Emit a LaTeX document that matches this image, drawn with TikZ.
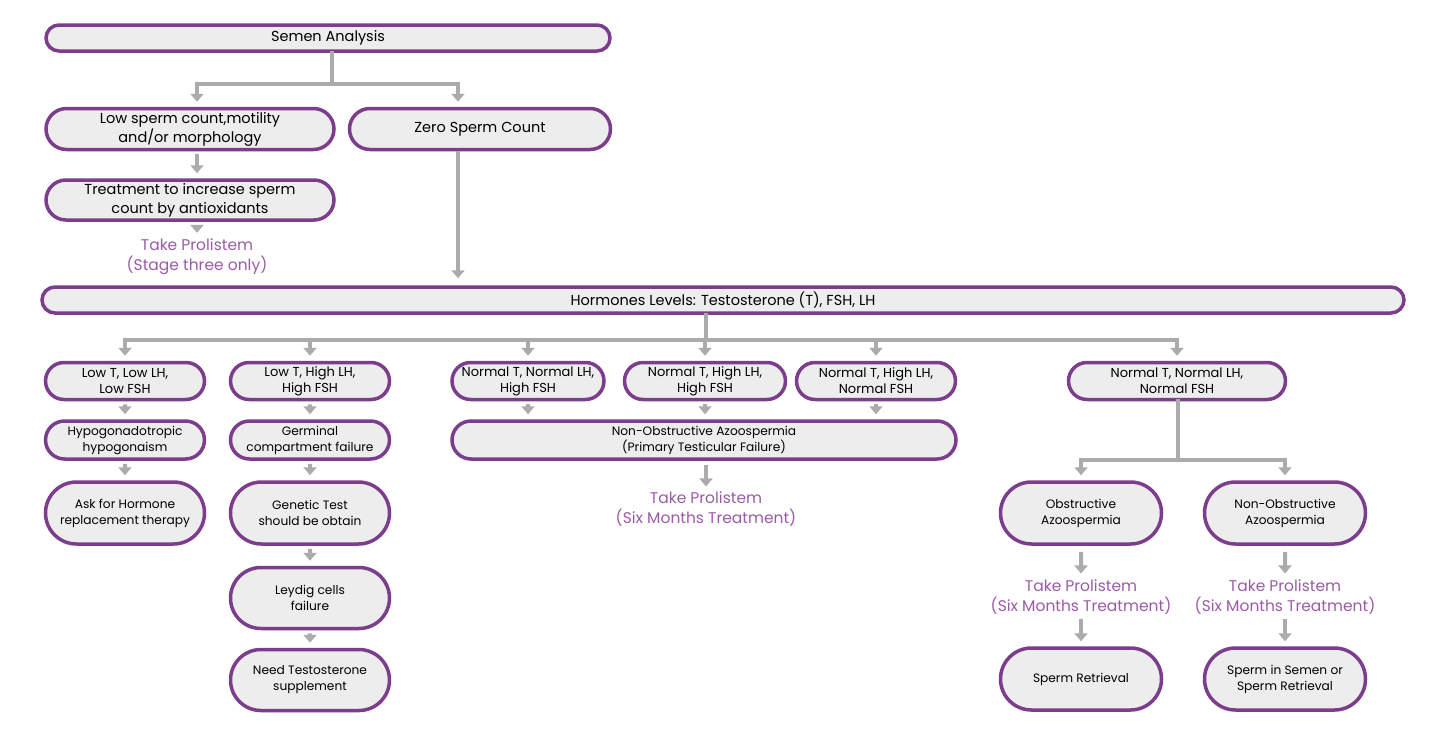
\documentclass[tikz,border=0pt]{standalone}
\usepackage{fontspec}
\setmainfont{Poppins}
\usetikzlibrary{arrows.meta,positioning,shapes.misc}
\definecolor{Plum}{HTML}{7B3D8C}
\definecolor{Lilac}{HTML}{9A5BA6}
\definecolor{Ash}{HTML}{ABABAB}
\definecolor{Mist}{HTML}{EDEDED}
\tikzset{
  pill/.style={rounded rectangle,draw=Plum,fill=Mist,line width=3.5pt,align=center,inner xsep=-16pt,inner ysep=0pt,minimum height=#1,font=\fontsize{14.5}{19}\selectfont},
  small/.style={pill=#1,font=\fontsize{12.2}{16}\selectfont},
  tag/.style={pill=#1,font=\fontsize{13}{16}\selectfont},
  note/.style={text=Lilac,align=center,inner sep=1pt,font=\fontsize{15.5}{20}\selectfont},
  link/.style={draw=Ash,line width=4pt,line cap=rect},
  tip/.style={draw=Ash,line width=4pt,->,shorten <=3pt,shorten >=5pt}
}
\begin{document}
\begin{tikzpicture}[x=1pt,y=-1pt,>={Triangle[width=13pt,length=8pt]}]
  \useasboundingbox (0,0) rectangle (1438,737);
  % top part
  \node[pill=26pt,minimum width=532pt] (sa) at (328,38) {Semen Analysis};
  \node[pill=41pt,minimum width=256pt] (low) at (190,129) {Low sperm count,motility\\and/or morphology};
  \node[pill=41pt,minimum width=229pt] (zero) at (480,129) {Zero Sperm Count};
  \node[pill=40pt,minimum width=256pt] (treat) at (190,200) {Treatment to increase sperm\\count by antioxidants};
  \node[note] (stage) at (197,257) {Take Prolistem\\(Stage three only)};
  \node[pill=26pt,minimum width=1330pt] (hl) at (723,300) {Hormones Levels: Testosterone (T), FSH, LH};
  \coordinate (bus1) at (332,84);
  \draw[link] (sa.south -| bus1) -- (bus1);
  \draw[link] ([xshift=7pt]low.north |- bus1) -- ([xshift=-22pt]zero.north |- bus1);
  \draw[tip,shorten <=0pt] ([xshift=7pt]low.north |- bus1) -- ([xshift=7pt]low.north);
  \draw[tip,shorten <=0pt] ([xshift=-22pt]zero.north |- bus1) -- ([xshift=-22pt]zero.north);
  \draw[tip] ([xshift=7pt]low.south) -- ([xshift=7pt]treat.north);
  \draw[tip] ([xshift=7pt]treat.south) -- (stage.north);
  \draw[tip,shorten <=0pt,shorten >=7pt] ([xshift=-22pt]zero.south) -- ([xshift=-22pt]zero.south |- hl.north);
  % hormone results
  \foreach \name/\x/\w/\txt in {ll/125/127/{Low T, Low LH,\\Low FSH},lh/310/127/{Low T, High LH,\\High FSH},
      nnh/528/120/{Normal T, Normal LH,\\High FSH},nhh/705/129/{Normal T, High LH,\\High FSH},
      nhn/876/127/{Normal T, High LH,\\Normal FSH},nnn/1177/185/{Normal T, Normal LH,\\Normal FSH}}
    \node[tag=37pt,minimum width=\w pt] (\name) at (\x,381) {\txt};
  \coordinate (bus2) at (706,340);
  \draw[link] ([xshift=-17pt]hl.south) -- (bus2);
  \draw[link] (ll.north |- bus2) -- (nnn.north |- bus2);
  \foreach \name in {ll,lh,nnh,nhh,nhn,nnn}
    \draw[tip,shorten <=0pt] (\name.north |- bus2) -- (\name.north);
  \node[small=38pt,minimum width=127pt] (hypo) at (125,440) {Hypogonadotropic\\hypogonaism};
  \node[small=38pt,minimum width=127pt] (germ) at (310,440) {Germinal\\compartment failure};
  \node[small=38pt,minimum width=472pt] (noa) at (704,440) {Non-Obstructive Azoospermia\\(Primary Testicular Failure)};
  \node[small=62pt,minimum width=127pt] (ask) at (125,513) {Ask for Hormone\\replacement therapy};
  \node[small=62pt,minimum width=127pt] (gene) at (310,513) {Genetic Test\\should be obtain};
  \node[small=61pt,minimum width=127pt] (leyd) at (310,598) {Leydig cells\\failure};
  \node[small=61pt,minimum width=127pt] (need) at (310,680) {Need Testosterone\\supplement};
  \node[note] (six) at (706,509) {Take Prolistem\\(Six Months Treatment)};
  \draw[tip] (ll) -- (hypo);
  \draw[tip] (lh) -- (germ);
  \foreach \name in {nnh,nhh,nhn}
    \draw[tip] (\name.south) -- (\name.south |- noa.north);
  \draw[tip] (hypo) -- (ask);
  \draw[tip] (germ) -- (gene);
  \draw[tip] (gene) -- (leyd);
  \draw[tip] (leyd) -- (need);
  \draw[tip,shorten <=4pt,shorten >=4pt] ([xshift=2pt]noa.south) -- (six.north);
  % normal hormones branch
  \node[small=62pt,minimum width=129pt] (obs) at (1081,513) {Obstructive\\Azoospermia};
  \node[small=62pt,minimum width=129pt] (nonobs) at (1285,513) {Non-Obstructive\\Azoospermia};
  \node[note] (sixa) at (1081,597) {Take Prolistem\\(Six Months Treatment)};
  \node[note] (sixb) at (1285,597) {Take Prolistem\\(Six Months Treatment)};
  \node[small=62pt,minimum width=129pt] (ret) at (1081,679) {Sperm Retrieval};
  \node[small=62pt,minimum width=129pt] (sem) at (1285,679) {Sperm in Semen or\\Sperm Retrieval};
  \coordinate (bus3) at (1178,460);
  \draw[link] ([xshift=1pt]nnn.south) -- (bus3);
  \draw[link] (obs.north |- bus3) -- (nonobs.north |- bus3);
  \draw[tip,shorten <=0pt] (obs.north |- bus3) -- (obs.north);
  \draw[tip,shorten <=0pt] (nonobs.north |- bus3) -- (nonobs.north);
  \draw[tip,shorten <=6pt] (obs) -- (sixa);
  \draw[tip,shorten <=6pt] (nonobs) -- (sixb);
  \draw[tip] (sixa) -- (ret);
  \draw[tip] (sixb) -- (sem);
\end{tikzpicture}
\end{document}
